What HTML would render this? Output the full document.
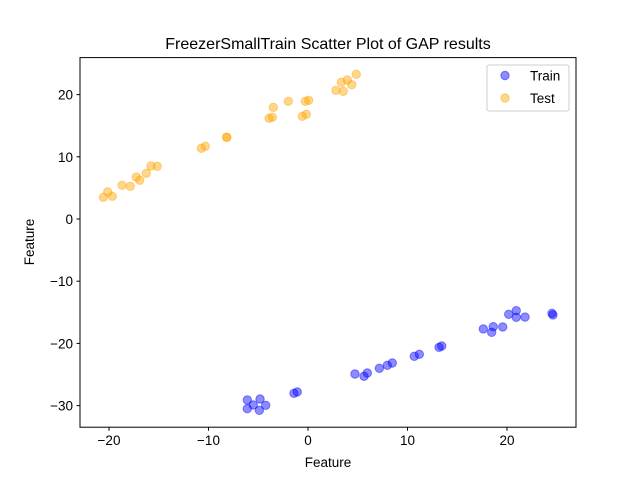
<!DOCTYPE html>
<html><head><meta charset="utf-8"><style>
body{margin:0;background:#fff;}
svg text{font-family:"Liberation Sans","DejaVu Sans",sans-serif;}
</style></head><body>
<svg id="chart" width="640" height="480" xmlns="http://www.w3.org/2000/svg">
<rect width="640" height="480" fill="#fff"/>
<text x="328" y="49" text-anchor="middle" font-size="16">FreezerSmallTrain Scatter Plot of GAP results</text>
<g id="marks"></g>
<rect x="80" y="57.6" width="496" height="369.6" fill="none" stroke="#000" stroke-width="1"/>
<g id="axes"></g>
<text x="328" y="467" text-anchor="middle" font-size="13.5">Feature</text>
<text transform="translate(34,242) rotate(-90)" text-anchor="middle" font-size="13.5">Feature</text>
<g>
<rect x="487" y="65" width="82" height="46" rx="2" fill="#fff" fill-opacity="0.8" stroke="#ccc"/>
<g>
<circle cx="505" cy="75.5" r="4.2" fill="blue" fill-opacity="0.45" stroke="blue" stroke-opacity="0.45"/>
<text x="530" y="80.5" font-size="13.5">Train</text></g>
<g>
<circle cx="505" cy="98" r="4.2" fill="orange" fill-opacity="0.45" stroke="orange" stroke-opacity="0.45"/>
<text x="530" y="103" font-size="13.5">Test</text></g>
</g>
</svg>
<script>
const trainX=[-6.10,-4.82,-6.10,-5.50,-4.89,-4.25,-1.41,-1.08,4.72,5.63,5.96,7.17,7.97,8.47,10.68,11.19,13.17,13.44,17.62,18.46,18.62,19.57,20.17,20.93,20.93,21.81,24.52,24.62];
const trainY=[-29.10,-28.94,-30.50,-29.90,-30.76,-29.95,-28.02,-27.81,-24.92,-25.29,-24.76,-24.00,-23.52,-23.15,-22.07,-21.75,-20.63,-20.42,-17.68,-18.22,-17.31,-17.36,-15.32,-14.74,-15.80,-15.76,-15.16,-15.43];
const testX=[-20.57,-20.13,-19.67,-18.69,-17.86,-17.26,-16.91,-16.25,-15.78,-15.15,-10.72,-10.32,-8.17,-8.17,-3.92,-3.59,-3.49,-1.98,-0.57,-0.17,-0.27,0.07,2.81,3.55,3.35,3.95,4.39,4.85];
const testY=[3.49,4.34,3.65,5.42,5.26,6.75,6.22,7.35,8.52,8.47,11.37,11.69,13.13,13.13,16.19,16.35,17.96,18.92,16.51,16.83,18.92,19.08,20.69,20.53,21.98,22.35,21.59,23.26];
const xTicks=[-20,-10,0,10,20];
const yTicks=[-30,-20,-10,0,10,20];
const NS="http://www.w3.org/2000/svg";
function sx(v){return 308+9.95*v;}
function sy(v){return 219-6.22*v;}
const marks=document.getElementById('marks');
function series(xs,ys,color,name){
 for(let i=0;i<xs.length;i++){
  const c=document.createElementNS(NS,'circle');
  c.setAttribute('cx',sx(xs[i]));c.setAttribute('cy',sy(ys[i]));c.setAttribute('r',4.2);
  c.setAttribute('fill',color);c.setAttribute('fill-opacity',0.45);
  c.setAttribute('stroke',color);c.setAttribute('stroke-opacity',0.45);
  
  
  marks.appendChild(c);
 }
}
series(testX,testY,'orange','test-point');
series(trainX,trainY,'blue','train-point');
const axes=document.getElementById('axes');
xTicks.forEach(t=>{
 const x=sx(t);
 const l=document.createElementNS(NS,'line');
 l.setAttribute('x1',x);l.setAttribute('x2',x);l.setAttribute('y1',427.2);l.setAttribute('y2',430.7);l.setAttribute('stroke','#000');
 
 
 axes.appendChild(l);
 const tx=document.createElementNS(NS,'text');
 tx.setAttribute('x',x);tx.setAttribute('y',445);tx.setAttribute('text-anchor','middle');tx.setAttribute('font-size','13.5');
 tx.textContent=t<0?'\u2212'+Math.abs(t):t;
 
 
 axes.appendChild(tx);
});
yTicks.forEach(t=>{
 const y=sy(t);
 const l=document.createElementNS(NS,'line');
 l.setAttribute('x1',76.5);l.setAttribute('x2',80);l.setAttribute('y1',y);l.setAttribute('y2',y);l.setAttribute('stroke','#000');
 
 
 axes.appendChild(l);
 const tx=document.createElementNS(NS,'text');
 tx.setAttribute('x',73);tx.setAttribute('y',y+5);tx.setAttribute('text-anchor','end');tx.setAttribute('font-size','13.5');
 tx.textContent=t<0?'\u2212'+Math.abs(t):t;
 
 
 axes.appendChild(tx);
});
</script>
</body></html>
